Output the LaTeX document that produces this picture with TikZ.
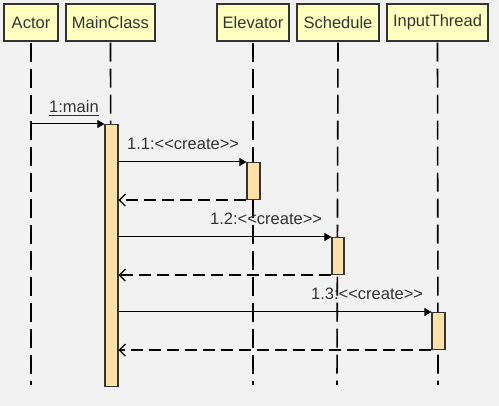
\documentclass[tikz,border=0pt]{standalone}
\usepackage{fontspec}
\setmainfont{Liberation Sans}
\usetikzlibrary{arrows.meta}
\definecolor{bg}{HTML}{F2F2F2}
\definecolor{headfill}{HTML}{FFFFC0}
\definecolor{actfill}{HTML}{FFE0A8}
\definecolor{ink}{HTML}{333333}
\newcommand\mylt{<\kern0pt}
\newcommand\mygt{>\kern0pt}
\newcommand\crt{\mylt\mylt create\mygt\mygt}
\tikzset{
  head/.style={draw=ink, line width=1.3pt, fill=headfill, minimum height=37pt, inner sep=0pt, font=\fontsize{16.5}{18}\selectfont, text=ink},
  lifeline/.style={line width=1.6pt, dash pattern=on 19pt off 7pt, black},
  actbar/.style={draw=ink, line width=1.1pt, fill=actfill},
  call/.style={line width=1pt, -{Triangle[length=7pt,width=8pt]}},
  ret/.style={line width=1.2pt, dash pattern=on 12pt off 6pt, -{Straight Barb[length=6pt,width=12pt]}},
  lbl/.style={font=\fontsize{16.5}{18}\selectfont, text=ink, inner sep=0pt, anchor=base west}
}
\begin{document}
\begin{tikzpicture}[x=1pt,y=-1pt]
\fill[bg] (0,0) rectangle (499,406);
\useasboundingbox (0,0) rectangle (499,406);
% headers
\node[head, minimum width=54pt] (actor) at (31,22.5) {Actor};
\node[head, minimum width=89pt] (main) at (110.5,22.5) {MainClass};
\node[head, minimum width=72pt] (elev) at (253,22.5) {Elevator};
\node[head, minimum width=82pt] (sched) at (338,22.5) {Schedule};
\node[head, minimum width=101pt] (input) at (437.5,22.5) {InputThread};
% lifeline ends
\coordinate (actorE) at (31,385);
\coordinate (mainE) at (111,385);
\coordinate (elevE) at (253,385);
\coordinate (schedE) at (337,385);
\coordinate (inputE) at (438,385);
\draw[lifeline] ([yshift=-1pt]actor.south) -- (actorE);
\draw[lifeline] ([yshift=-1pt]main.south) -- (mainE);
\draw[lifeline] ([yshift=-1pt]elev.south) -- (elevE);
\draw[lifeline] ([yshift=-1pt]sched.south) -- (schedE);
\draw[lifeline] ([yshift=-1pt]input.south) -- (inputE);
% activation bars
\node[actbar, minimum width=13pt, minimum height=262pt, inner sep=0pt, anchor=north] (mainA) at (111.5,124) {};
\node[actbar, minimum width=13pt, minimum height=37pt, inner sep=0pt, anchor=north] (elevA) at (253.5,162) {};
\node[actbar, minimum width=12pt, minimum height=37pt, inner sep=0pt, anchor=north] (schedA) at (338,237) {};
\node[actbar, minimum width=13pt, minimum height=37pt, inner sep=0pt, anchor=north] (inputA) at (438.5,312) {};
% messages
\coordinate (m0) at (31,124);
\draw[call] (m0) -- (mainA.north west);
\node[lbl] (l0) at (49,113) {1:main};
\draw[line width=1pt, ink] ([yshift=-3pt]l0.base west) -- ([yshift=-3pt]l0.base east);
\draw[call] (mainA.east |- elevA.north west) -- (elevA.north west);
\node[lbl] (l1) at (127,150) {1.1:\crt};
\draw[ret] (elevA.south west) -- (mainA.east |- elevA.south west);
\draw[call] (mainA.east |- schedA.north west) -- (schedA.north west);
\node[lbl] (l2) at (210,225) {1.2:\crt};
\draw[ret] (schedA.south west) -- (mainA.east |- schedA.south west);
\draw[call] (mainA.east |- inputA.north west) -- (inputA.north west);
\node[lbl] (l3) at (311,300) {1.3:\crt};
\draw[ret] (inputA.south west) -- (mainA.east |- inputA.south west);
\end{tikzpicture}
\end{document}
